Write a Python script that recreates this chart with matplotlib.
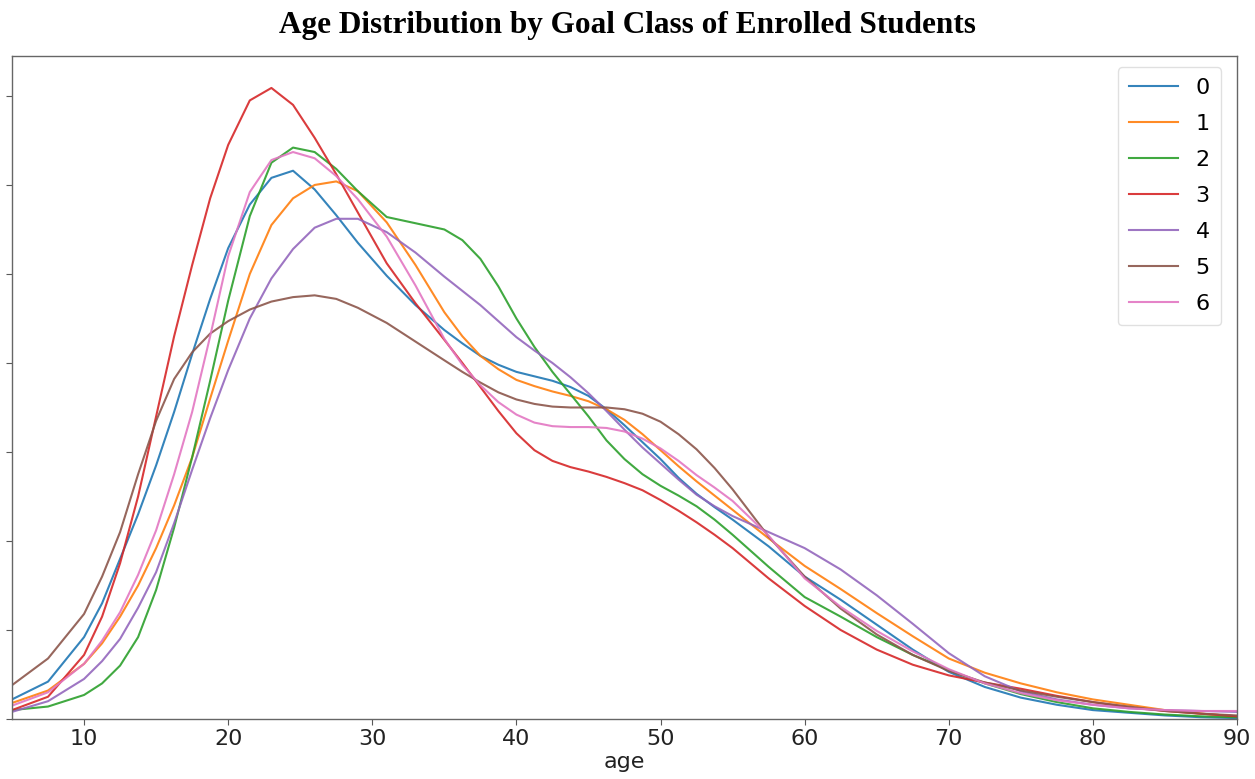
import matplotlib
matplotlib.use("Agg")
import matplotlib.pyplot as plt

age = [5, 7.5, 10, 11.25, 12.5, 13.75, 15, 16.25, 17.5, 18.75, 20, 21.5, 23, 24.5, 26, 27.5, 29,
       31, 33, 35, 36.25, 37.5, 38.75, 40, 41.25, 42.5, 43.75, 45, 46.25, 47.5, 48.75, 50,
       51.25, 52.5, 53.75, 55, 57.5, 60, 62.5, 65, 67.5, 70, 72.5, 75, 77.5, 80, 82.5, 85,
       87.5, 90]

# densities in units of 0.005 (one y tick)
class_0 = [0.22, 0.42, 0.92, 1.30, 1.80, 2.30, 2.85, 3.45, 4.10, 4.72, 5.29, 5.78, 6.08, 6.16, 5.95, 5.66, 5.35,
           4.98, 4.65, 4.37, 4.22, 4.08, 3.98, 3.90, 3.85, 3.80, 3.73, 3.63, 3.48, 3.30, 3.11, 2.92,
           2.71, 2.53, 2.38, 2.24, 1.94, 1.60, 1.34, 1.06, 0.78, 0.53, 0.36, 0.24, 0.16, 0.10, 0.07, 0.04,
           0.02, 0.01]
class_1 = [0.18, 0.32, 0.62, 0.85, 1.15, 1.50, 1.92, 2.40, 2.94, 3.60, 4.25, 5.00, 5.55, 5.85, 6.00, 6.04, 5.93,
           5.58, 5.10, 4.57, 4.30, 4.08, 3.93, 3.81, 3.74, 3.68, 3.63, 3.57, 3.48, 3.36, 3.20, 3.02,
           2.84, 2.67, 2.51, 2.35, 2.03, 1.72, 1.46, 1.19, 0.93, 0.68, 0.52, 0.40, 0.30, 0.22, 0.16, 0.10,
           0.06, 0.03]
class_2 = [0.10, 0.14, 0.27, 0.40, 0.60, 0.92, 1.45, 2.15, 2.94, 3.80, 4.70, 5.65, 6.25, 6.42, 6.37, 6.18, 5.93,
           5.64, 5.57, 5.50, 5.38, 5.17, 4.86, 4.50, 4.18, 3.90, 3.65, 3.40, 3.13, 2.92, 2.75, 2.62,
           2.51, 2.39, 2.24, 2.07, 1.71, 1.37, 1.15, 0.92, 0.72, 0.55, 0.40, 0.28, 0.19, 0.12, 0.08, 0.05,
           0.03, 0.02]
class_3 = [0.10, 0.25, 0.72, 1.15, 1.75, 2.50, 3.40, 4.30, 5.10, 5.85, 6.45, 6.95, 7.09, 6.90, 6.53, 6.12, 5.69,
           5.12, 4.67, 4.26, 4.00, 3.73, 3.46, 3.21, 3.02, 2.90, 2.83, 2.78, 2.72, 2.65, 2.57, 2.46,
           2.34, 2.21, 2.07, 1.92, 1.58, 1.27, 1.00, 0.78, 0.61, 0.49, 0.41, 0.34, 0.26, 0.19, 0.13, 0.09,
           0.06, 0.03]
class_4 = [0.08, 0.20, 0.45, 0.65, 0.90, 1.25, 1.65, 2.20, 2.80, 3.38, 3.92, 4.50, 4.95, 5.28, 5.52, 5.62, 5.62,
           5.47, 5.24, 4.97, 4.81, 4.65, 4.47, 4.29, 4.14, 4.00, 3.84, 3.66, 3.46, 3.25, 3.05, 2.87,
           2.69, 2.52, 2.39, 2.28, 2.10, 1.92, 1.68, 1.39, 1.07, 0.74, 0.48, 0.31, 0.22, 0.16, 0.12, 0.10,
           0.09, 0.08]
class_5 = [0.38, 0.68, 1.18, 1.60, 2.10, 2.75, 3.35, 3.82, 4.12, 4.33, 4.47, 4.60, 4.69, 4.74, 4.76, 4.72, 4.62,
           4.45, 4.24, 4.03, 3.90, 3.78, 3.67, 3.59, 3.54, 3.51, 3.50, 3.50, 3.50, 3.48, 3.43, 3.34,
           3.20, 3.03, 2.82, 2.58, 2.05, 1.60, 1.24, 0.95, 0.72, 0.54, 0.41, 0.32, 0.25, 0.19, 0.14, 0.09,
           0.06, 0.04]
class_6 = [0.15, 0.30, 0.62, 0.88, 1.20, 1.62, 2.12, 2.75, 3.45, 4.30, 5.20, 5.92, 6.28, 6.37, 6.30, 6.10, 5.84,
           5.42, 4.87, 4.27, 3.98, 3.75, 3.56, 3.42, 3.33, 3.29, 3.28, 3.28, 3.27, 3.23, 3.15, 3.04,
           2.90, 2.74, 2.60, 2.45, 2.06, 1.58, 1.26, 0.99, 0.76, 0.56, 0.40, 0.29, 0.21, 0.16, 0.12, 0.10,
           0.09, 0.09]

labels = ["0", "1", "2", "3", "4", "5", "6"]
series = [class_0, class_1, class_2, class_3, class_4, class_5, class_6]
colors = ["#1f77b4", "#ff7f0e", "#2ca02c", "#d62728", "#9467bd", "#8c564b", "#e377c2"]
unit = 0.005

fig = plt.figure(figsize=(12.55, 7.79), dpi=100)
ax = fig.add_axes([12 / 1255, 1 - 719 / 779, (1237 - 12) / 1255, (719 - 56) / 779])

for lab, vals, c in zip(labels, series, colors):
    ax.plot(age, [v * unit for v in vals], color=c, lw=1.5, alpha=0.9, label=lab)

ax.set_xlim(5, 90)
ax.set_ylim(0, 7.449 * unit)
ax.set_xticks([10, 20, 30, 40, 50, 60, 70, 80, 90])
ax.set_yticks([i * unit for i in range(0, 8)])
ax.tick_params(axis="y", labelleft=False, length=4, color="0.35")
ax.tick_params(axis="x", labelsize=16, length=4, color="0.35", labelcolor="#222222")
for s in ax.spines.values():
    s.set_color("0.4")
    s.set_linewidth(1.0)
ax.set_xlabel("age", fontsize=16, color="#222222", labelpad=2)

leg = ax.legend(loc="upper right", fontsize=16, handlelength=2.2, labelspacing=0.72,
                borderpad=0.5, frameon=True, bbox_to_anchor=(0.996, 1.0))
leg.get_frame().set_edgecolor("0.85")

fig.text(0.5, 1 - 26 / 779, "Age Distribution by Goal Class of Enrolled Students",
         ha="center", va="center", fontsize=22.5, family="Liberation Serif", weight="bold")

fig.savefig("out.png", dpi=100)
